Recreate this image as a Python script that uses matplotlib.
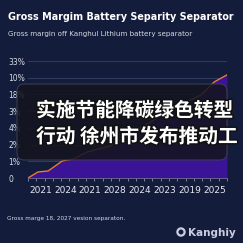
import matplotlib
matplotlib.use('Agg')
import matplotlib.pyplot as plt
import matplotlib.patheffects as pe
from matplotlib.patches import FancyBboxPatch, Circle
from matplotlib.ticker import MultipleLocator

W = H = 243
BG = '#141c3b'

# Data
years = ['2021', '2024', '2021', '2028', '2024', '2023', '2019', '2025']
y_labels = ['0', '1%', '2%', '4%', '3%', '18%', '10%', '33%']
line_x = [0, 0.4, 0.81, 1.38, 1.82, 2.39, 3.32, 4.53, 5.87, 6.96, 7.49, 8.0]
line_y = [0, 0.36, 0.42, 1.02, 1.14, 1.56, 1.92, 3.0, 4.2, 4.97, 5.75, 6.17]

title = 'Gross Margim Battery Separity Separator'
subtitle = 'Gross margin off Kanghul Lithium battery separator'
footer = 'Gross marge 18, 2027 vesion separaton.'
brand = 'Kanghiy'
caption = ['实施节能降碳绿色转型', '行动 徐州市发布推动工']


def fx(px):
    return px / W


def fy(py):
    return 1 - py / H


fig = plt.figure(figsize=(W / 100, H / 100), dpi=100, facecolor=BG)

# Plot area
ax = fig.add_axes([fx(28), fy(178), fx(227) - fx(28), (178 - 61) / H])
ax.set_facecolor(BG)
ax.set_xlim(0, 8)
ax.set_ylim(0, 7)

ax.fill_between(line_x, line_y, 0, color='#3b1396', lw=0, zorder=2)
ax.plot(line_x, line_y, color='#f0793a', lw=1.0, zorder=4)

ax.set_yticks(range(len(y_labels)))
ax.set_yticklabels(y_labels)
ax.grid(axis='y', color='#2f3a5e', lw=0.8, zorder=3)
ax.set_xticks([i + 0.5 for i in range(len(years))])
ax.set_xticklabels(years)
ax.xaxis.set_minor_locator(MultipleLocator(1 / 3))
ax.tick_params(axis='x', which='major', length=0, pad=6, labelsize=6.5,
               labelcolor='#e6e8f0')
ax.tick_params(axis='x', which='minor', length=2.5, color='#8a90a8', width=0.6)
ax.tick_params(axis='y', length=0, pad=14, labelsize=5.5, labelcolor='#d8dbe6')
for lbl in ax.get_yticklabels():
    lbl.set_horizontalalignment('left')
for s in ['top', 'right', 'left']:
    ax.spines[s].set_visible(False)
ax.spines['bottom'].set_color('#6a7090')
ax.spines['bottom'].set_linewidth(0.6)

# Texts
fig.text(fx(8), fy(17), title, color='white', fontsize=6.95, fontweight='bold',
         va='center', ha='left')
fig.text(fx(8), fy(34), subtitle, color='#d6d9e4', fontsize=5.15,
         va='center', ha='left')
fig.text(fx(7), fy(218), footer, color='#d6d9e4', fontsize=4.15,
         va='center', ha='left')
fig.text(fx(236), fy(233), brand, color='#c9cde0', fontsize=7.5,
         fontweight='bold', va='center', ha='right')
ring = Circle((fx(181), fy(232)), 3.6 / W, transform=fig.transFigure,
              facecolor='none', edgecolor='#c9cde0', lw=1.6)
fig.patches.append(ring)

# Caption overlay box
box = FancyBboxPatch((fx(17), fy(160)), fx(227) - fx(17), (160 - 84) / H,
                     boxstyle='round,pad=0,rounding_size=0.03',
                     transform=fig.transFigure, facecolor='#15151f',
                     edgecolor='#3e3f52', lw=0.8, alpha=0.88, zorder=5)
fig.patches.append(box)

for i, line in enumerate(caption):
    fig.text(fx(36), fy(111 + 26 * i), line, color='white', fontsize=14.2,
             fontweight='bold', family=['Noto Sans CJK SC', 'DejaVu Sans'],
             va='center', ha='left', zorder=6,
             path_effects=[pe.withStroke(linewidth=2.2, foreground='#111111')])

fig.savefig('out.png', dpi=100, facecolor=BG)
